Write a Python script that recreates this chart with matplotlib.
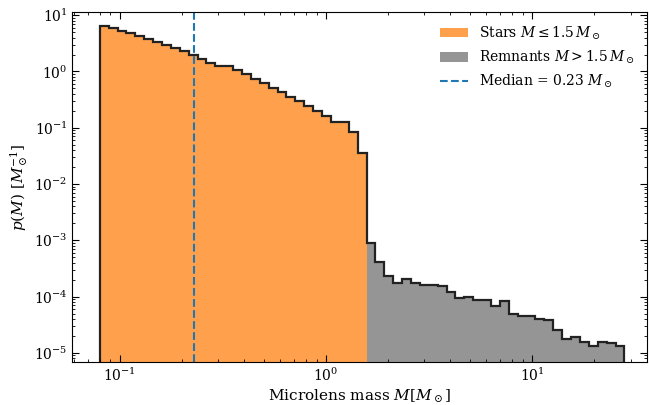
import numpy as np
import matplotlib
matplotlib.use("Agg")
import matplotlib.pyplot as plt
from matplotlib.patches import Patch
from matplotlib.lines import Line2D

plt.rcParams['font.family'] = ['DejaVu Serif']
plt.rcParams['mathtext.fontset'] = 'dejavuserif'

# Histogram definition (log-spaced bins)
mass_min = 0.08
mass_max = 28.0
n_bins = 59
n_star_bins = 30
median_mass = 0.23

# Probability density per bin [1/Msun]
density = [
    6.38, 5.85, 5.28, 4.73, 4.22, 3.78, 3.37, 2.98, 2.61, 2.27,
    1.96, 1.68, 1.43, 1.25, 1.25, 1.06, 0.885, 0.736, 0.617, 0.503,
    0.427, 0.352, 0.296, 0.241, 0.197, 0.161, 0.128, 0.128, 0.0832, 0.0350,
    9.1e-4, 4.05e-4, 2.28e-4, 1.75e-4, 2.09e-4, 1.73e-4, 1.63e-4, 1.61e-4, 1.56e-4, 1.19e-4,
    9.4e-5, 1.0e-4, 8.57e-5, 8.74e-5, 6.70e-5, 8.22e-5, 4.89e-5, 4.54e-5, 4.49e-5, 3.98e-5,
    3.79e-5, 2.59e-5, 1.80e-5, 1.92e-5, 1.59e-5, 1.33e-5, 1.59e-5, 1.49e-5, 1.35e-5,
]

edges = np.logspace(np.log10(mass_min), np.log10(mass_max), n_bins + 1)
density = np.array(density)

fig = plt.figure(figsize=(6.49, 4.05), dpi=100)
ax = fig.add_axes([0.1117, 0.1054, 0.885, 0.8656])

base = 1e-7
star_color = '#ffa04c'
rem_color = '#959595'
ax.stairs(density[:n_star_bins], edges[:n_star_bins + 1], fill=True,
          color=star_color, baseline=base, lw=0)
ax.stairs(density[n_star_bins:], edges[n_star_bins:], fill=True,
          color=rem_color, baseline=base, lw=0)
ax.stairs(density, edges, fill=False, color='#222222', lw=1.6, baseline=base)
ax.axvline(median_mass, color='C0', ls='--', lw=1.5)

ax.set_xscale('log')
ax.set_yscale('log')
ax.set_xlim(10**-1.229, 10**1.556)
ax.set_ylim(6.8e-6, 11.5)

ax.tick_params(which='both', direction='in', top=True, right=True, labelsize=10)
ax.tick_params(which='major', length=5)
ax.tick_params(which='minor', length=2.5)

ax.set_xlabel(r'Microlens mass $M [M_\odot]$', fontsize=11, labelpad=2)
ax.set_ylabel(r'$p(M)\ [M_\odot^{-1}]$', fontsize=11, labelpad=3)

handles = [
    Patch(facecolor=star_color, label=r'Stars $M \leq 1.5\,M_\odot$'),
    Patch(facecolor=rem_color, label=r'Remnants $M > 1.5\,M_\odot$'),
    Line2D([], [], color='C0', ls='--', lw=1.5, label=r'Median = 0.23 $M_\odot$'),
]
ax.legend(handles=handles, loc='upper right', frameon=False, fontsize=10)

fig.savefig('out.png', dpi=100)
